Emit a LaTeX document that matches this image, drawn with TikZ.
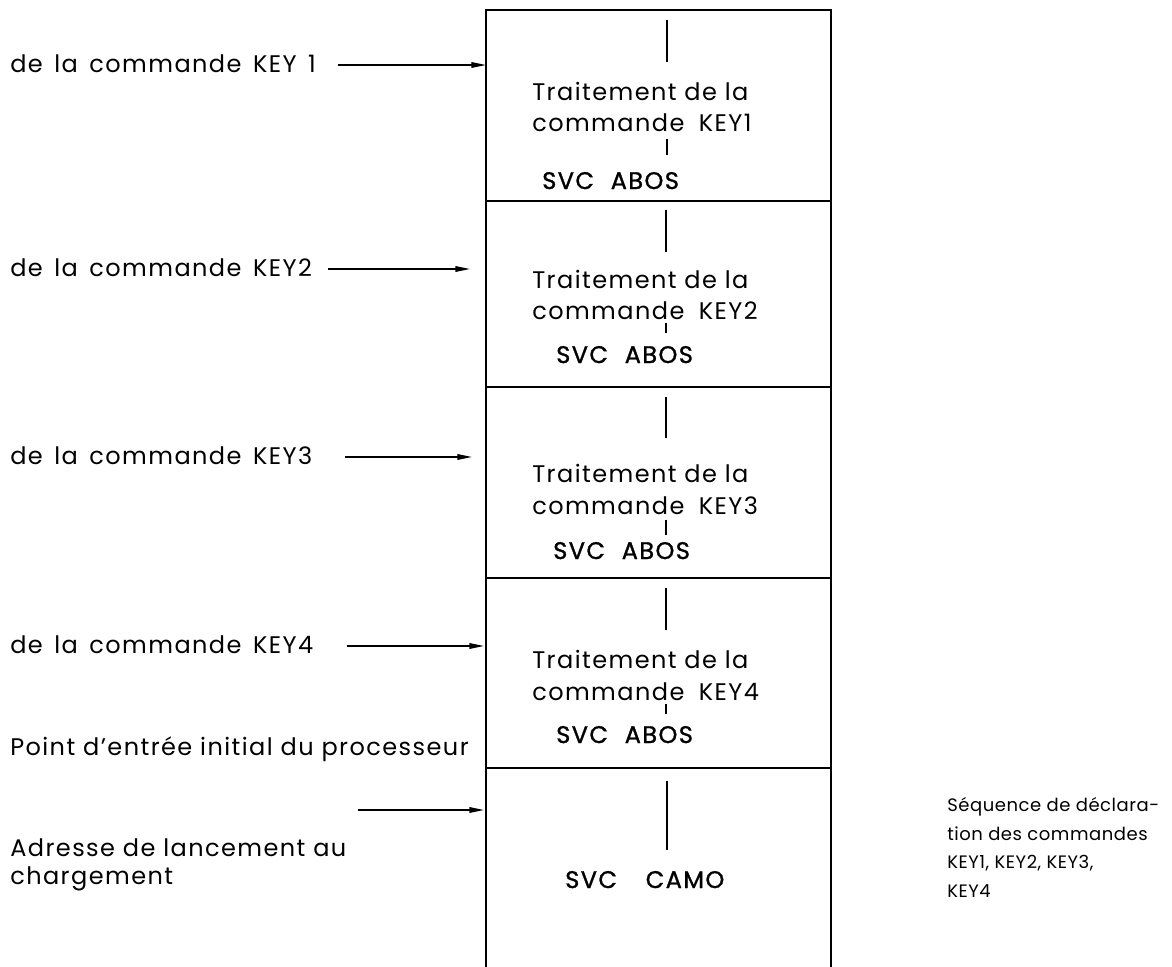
\documentclass[tikz,border=0pt]{standalone}
\usepackage{fontspec}
\setmainfont{Poppins}[LetterSpace=6]
\usetikzlibrary{arrows.meta}
\newcommand{\widewords}{\spaceskip=0.48em\relax}
\begin{document}
\begin{tikzpicture}[x=0.75pt,y=-0.75pt,
  lbl/.style={anchor=base west,inner sep=0pt,font=\fontsize{18}{21}\selectfont},
  side/.style={lbl,font=\fontsize{18}{21}\selectfont\widewords},
  svc/.style={lbl,font=\fontsize{18}{21}\selectfont\addfontfeature{FakeBold=1.2}},
  boxline/.style={line width=1.1pt},
  divthick/.style={line width=2.2pt},
  divline/.style={line width=1.4pt},
  vline/.style={line width=0.9pt},
  inarrow/.style={line width=1.1pt,-{Triangle[length=11pt,width=4.2pt]}}]
\useasboundingbox (0,0) rectangle (1172,967);
% box frame
\coordinate (tl) at (486,10);
\coordinate (tr) at (831,10);
\coordinate (bl) at (486,967);
\coordinate (br) at (831,967);
\draw[boxline] (bl) -- (tl) -- (tr) -- (br);
\coordinate (d1l) at (486,201); \coordinate (d1r) at (831,201);
\coordinate (d2l) at (486,387); \coordinate (d2r) at (831,387);
\coordinate (d3l) at (486,578); \coordinate (d3r) at (831,578);
\coordinate (d4l) at (486,768); \coordinate (d4r) at (831,768);
\draw[divthick] (d1l) -- (d1r);
\draw[divline] (d2l) -- (d2r);
\draw[divline] (d3l) -- (d3r);
\draw[divline] (d4l) -- (d4r);
% section 1
\coordinate (v1a) at (667,20); \coordinate (v1b) at (667,62);
\draw[vline] (v1a) -- (v1b);
\node[lbl] (t1a) at (532,100) {Traitement de la};
\node[lbl] (t1b) at (532,131) {commande\hspace{0.6em}KEY1};
\coordinate (v1c) at (667,139); \coordinate (v1d) at (667,155);
\draw[vline] (v1c) -- (v1d);
\node[svc] (s1) at (542,189) {SVC\hspace{0.7em}ABOS};
% section 2
\coordinate (v2a) at (666,210); \coordinate (v2b) at (666,252);
\draw[vline] (v2a) -- (v2b);
\node[lbl] (t2a) at (532,288) {Traitement de la};
\node[lbl] (t2b) at (532,319) {commande\hspace{0.6em}KEY2};
\coordinate (v2c) at (666,323); \coordinate (v2d) at (666,333);
\draw[vline] (v2c) -- (v2d);
\node[svc] (s2) at (556,363) {SVC\hspace{0.7em}ABOS};
% section 3
\coordinate (v3a) at (666,397); \coordinate (v3b) at (666,438);
\draw[vline] (v3a) -- (v3b);
\node[lbl] (t3a) at (532,482) {Traitement de la};
\node[lbl] (t3b) at (532,514) {commande\hspace{0.6em}KEY3};
\coordinate (v3c) at (666,520); \coordinate (v3d) at (666,535);
\draw[vline] (v3c) -- (v3d);
\node[svc] (s3) at (553,559) {SVC\hspace{0.7em}ABOS};
% section 4
\coordinate (v4a) at (666,588); \coordinate (v4b) at (666,630);
\draw[vline] (v4a) -- (v4b);
\node[lbl] (t4a) at (532,668) {Traitement de la};
\node[lbl] (t4b) at (532,700) {commande\hspace{0.6em}KEY4};
\coordinate (v4c) at (666,704); \coordinate (v4d) at (666,714);
\draw[vline] (v4c) -- (v4d);
\node[svc] (s4) at (556,743) {SVC\hspace{0.7em}ABOS};
% section 5
\coordinate (v5a) at (667,781); \coordinate (v5b) at (667,850);
\draw[vline] (v5a) -- (v5b);
\node[svc] (s5) at (565,888) {SVC\hspace{1.2em}CAMO};
% left labels and arrows
\node[side] (k1) at (10,72) {de la commande KEY 1};
\coordinate (a1s) at (338,65); \coordinate (a1e) at (486,65);
\draw[inarrow] (a1s) -- (a1e);
\node[side] (k2) at (10,276) {de la commande KEY2};
\coordinate (a2s) at (328,269); \coordinate (a2e) at (470,269);
\draw[inarrow] (a2s) -- (a2e);
\node[side] (k3) at (10,464) {de la commande KEY3};
\coordinate (a3s) at (345,457); \coordinate (a3e) at (472,457);
\draw[inarrow] (a3s) -- (a3e);
\node[side] (k4) at (10,653) {de la commande KEY4};
\coordinate (a4s) at (347,646); \coordinate (a4e) at (484,646);
\draw[inarrow] (a4s) -- (a4e);
\node[lbl] (p1) at (10,755) {Point d’entrée initial du processeur};
\coordinate (a5s) at (358,810); \coordinate (a5e) at (484,810);
\draw[inarrow] (a5s) -- (a5e);
\node[lbl] (p2) at (10,856) {Adresse de lancement au};
\node[lbl] (p3) at (10,884) {chargement};
% right text
\node[lbl,align=left,anchor=north west,font=\fontsize{13.5}{21.5}\selectfont\addfontfeature{LetterSpace=3}] (seq) at (947,797)
  {Séquence de déclara-\\tion des commandes\\KEY1, KEY2, KEY3,\\KEY4};
\end{tikzpicture}
\end{document}
